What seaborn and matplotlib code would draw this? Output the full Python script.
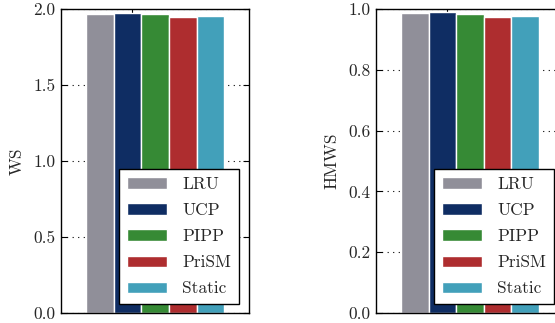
import numpy as np
import pandas as pd
import seaborn as sns
import matplotlib.pyplot as plt

policies = ["LRU", "UCP", "PIPP", "PriSM", "Static"]
ws_values = [1.969, 1.976, 1.965, 1.947, 1.956]
hmws_values = [0.9855, 0.989, 0.9836, 0.9737, 0.978]
colors = ["#908f99", "#0f2d63", "#368a35", "#ae2d2f", "#42a0ba"]

sns.set_theme(style="ticks")
plt.rcParams['font.family'] = 'serif'
plt.rcParams['font.serif'] = ['cmr10', 'DejaVu Serif']
plt.rcParams['axes.formatter.use_mathtext'] = True

fig = plt.figure(figsize=(5.55, 3.23), dpi=100)
ax1 = fig.add_axes([0.110, 0.031, 0.3387, 0.941])
ax2 = fig.add_axes([0.6775, 0.031, 0.3387, 0.941])

panels = [
    (ax1, ws_values, "WS", 2.0, [0.0, 0.5, 1.0, 1.5, 2.0]),
    (ax2, hmws_values, "HMWS", 1.0, [0.0, 0.2, 0.4, 0.6, 0.8, 1.0]),
]

for ax, vals, name, top, yt in panels:
    df = pd.DataFrame({'policy': policies, 'value': vals})
    sns.barplot(data=df, x='policy', y='value', hue='policy', palette=colors,
                saturation=1, width=1.0, edgecolor='white', linewidth=1.0,
                legend=False, ax=ax, zorder=2)
    ax.set_xlim(-1.4, 5.4)
    ax.set_ylim(0, top)
    ax.set_yticks(yt)
    ax.set_yticklabels([f"{v:.1f}" for v in yt], fontsize=12.5)
    ax.set_xticks([1.15])
    ax.set_xticklabels([])
    ax.set_xlabel("")
    ax.set_ylabel(name, fontsize=12.5, labelpad=6)
    ax.yaxis.grid(True, linestyle=(0, (1, 4)), color='black', linewidth=0.8, zorder=0)
    ax.set_axisbelow(True)
    ax.tick_params(axis='y', direction='in', left=True, right=True, length=4,
                   width=0.8, color='black', pad=4)
    ax.tick_params(axis='x', direction='in', top=True, bottom=False, length=3,
                   width=0.8, color='black')
    for sp in ax.spines.values():
        sp.set_color('black')
        sp.set_linewidth(1.0)
    handles = list(ax.patches)[:len(policies)]
    leg = ax.legend(handles, policies, loc='lower right', fontsize=12.5,
                    frameon=True, fancybox=False, framealpha=1,
                    handlelength=2.3, handleheight=0.65, labelspacing=0.62,
                    borderpad=0.45, handletextpad=0.9,
                    bbox_to_anchor=(0.993, 0.0))
    leg.get_frame().set_edgecolor('black')
    leg.get_frame().set_linewidth(1.0)
    leg.set_zorder(5)

fig.savefig('out.png', dpi=100)
